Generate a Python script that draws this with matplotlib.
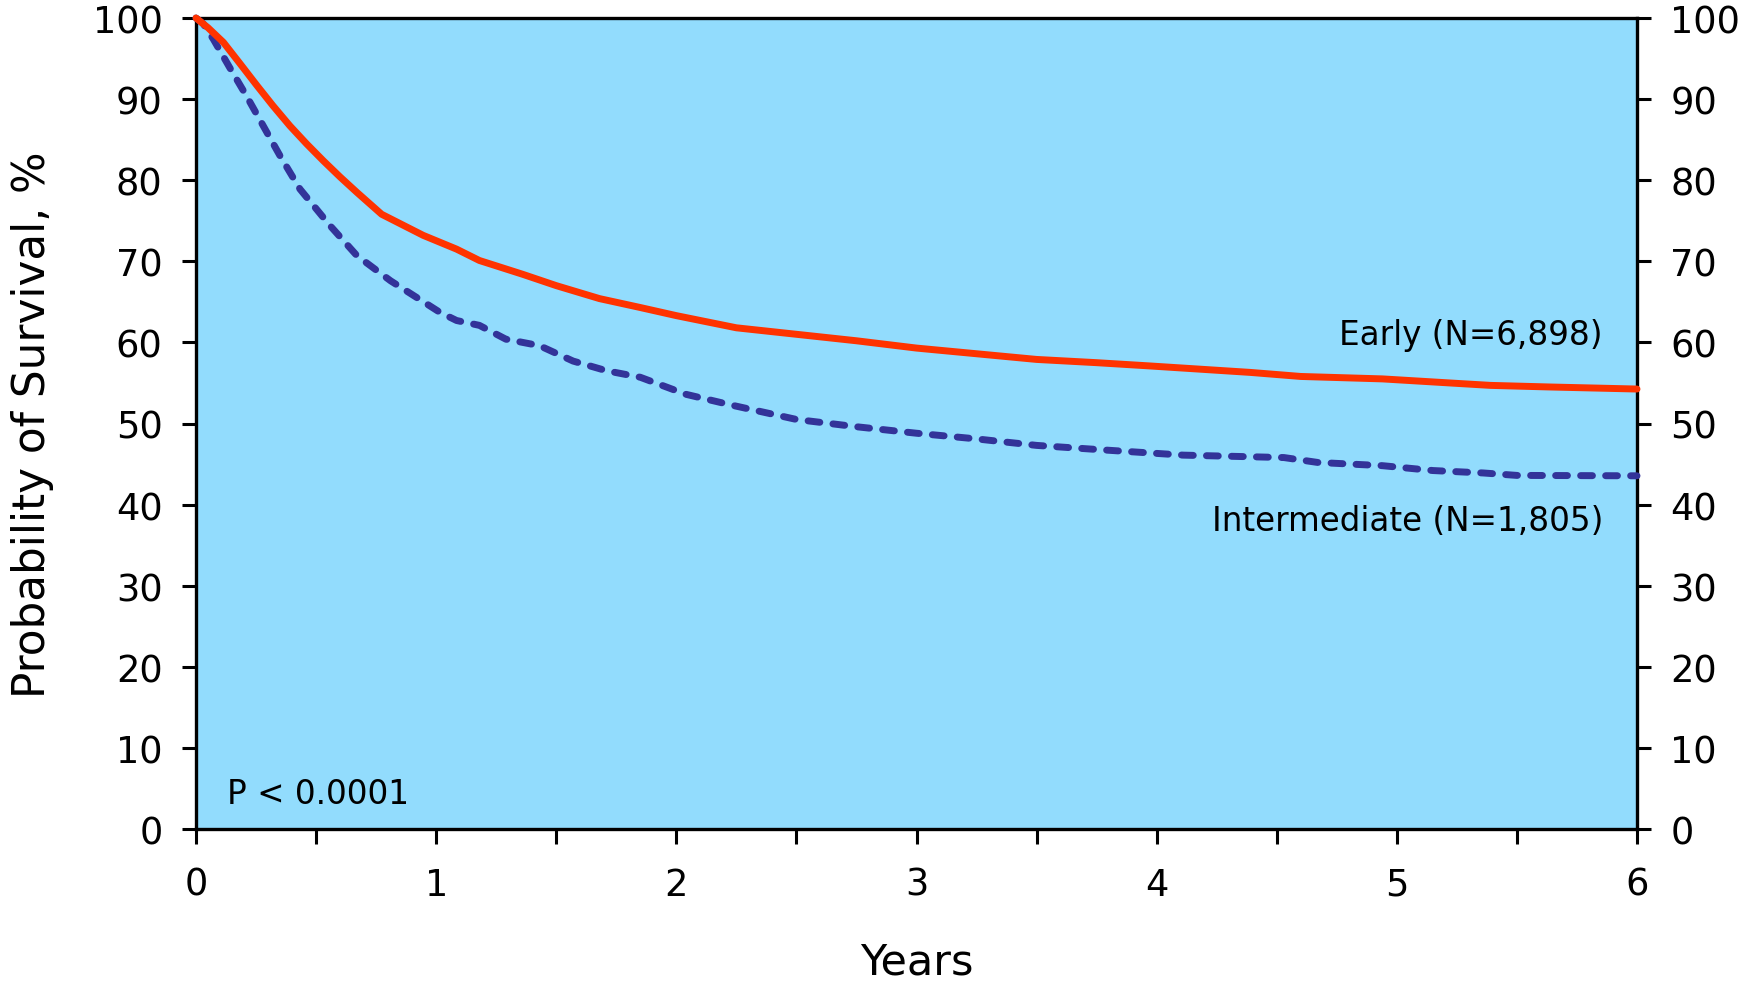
import matplotlib
matplotlib.use("Agg")
import matplotlib.pyplot as plt
import numpy as np

# ---- data ----
early_t = [0, 0.05, 0.114, 0.18, 0.253, 0.32, 0.391, 0.46, 0.53, 0.6, 0.67, 0.773,
           0.946, 1.085, 1.18, 1.36, 1.50, 1.68, 1.85, 2.0, 2.25, 2.5, 2.75, 3.0,
           3.25, 3.5, 3.75, 3.97, 4.39, 4.6, 4.94, 5.22, 5.39, 5.64, 6.0]
early_s = [100, 98.8, 97.0, 94.5, 91.7, 89.2, 86.7, 84.5, 82.4, 80.4, 78.5, 75.8,
           73.2, 71.5, 70.1, 68.4, 67.0, 65.4, 64.3, 63.3, 61.8, 61.0, 60.2, 59.3,
           58.6, 57.9, 57.5, 57.1, 56.3, 55.8, 55.5, 55.0, 54.7, 54.5, 54.25]

inter_t = [0, 0.03, 0.072, 0.14, 0.21, 0.28, 0.35, 0.433, 0.558, 0.67, 0.81, 1.016,
           1.085, 1.18, 1.29, 1.43, 1.57, 1.71, 1.85, 2.04, 2.24, 2.5, 2.75, 3.0,
           3.25, 3.5, 3.8, 4.11, 4.53, 4.67, 4.94, 5.15, 5.36, 5.5, 6.0]
inter_s = [100, 99.3, 97.4, 93.9, 90.4, 86.7, 83.0, 78.9, 74.4, 70.7, 67.6, 63.7,
           62.7, 62.1, 60.4, 59.6, 57.7, 56.5, 55.7, 53.6, 52.2, 50.5, 49.6, 48.8,
           48.1, 47.3, 46.7, 46.1, 45.8, 45.2, 44.8, 44.2, 43.9, 43.6, 43.55]

early_label = "Early (N=6,898)"
inter_label = "Intermediate (N=1,805)"
p_text = "P < 0.0001"
x_ticks = [0, 1, 2, 3, 4, 5, 6]
x_minor = [0.5, 1.5, 2.5, 3.5, 4.5, 5.5]
y_ticks = [0, 10, 20, 30, 40, 50, 60, 70, 80, 90, 100]

# ---- style ----
plt.rcParams['font.family'] = ['DejaVu Sans']
BG = '#92DCFD'
RED = '#FF3300'
BLUE = '#333399'

fig = plt.figure(figsize=(17.64, 9.87), dpi=100)
ax = fig.add_axes([196/1764, 1-830/987, (1637-196)/1764, (830-19)/987])
ax.set_facecolor(BG)

ax.plot(early_t, early_s, color=RED, lw=5.0, solid_capstyle='round',
        solid_joinstyle='round', clip_on=False, zorder=4)
ax.plot(inter_t, inter_s, color=BLUE, lw=5.0, linestyle=(0, (1.7, 1.9)),
        dash_capstyle='round', clip_on=False, zorder=3)

ax.set_xlim(0, 6)
ax.set_ylim(0, 100)
ax.set_xticks(x_ticks)
ax.set_xticks(x_minor, minor=True)
ax.set_yticks(y_ticks)

for s in ax.spines.values():
    s.set_linewidth(2.4)
    s.set_color('black')

ax.tick_params(axis='x', which='both', direction='out', length=10.5, width=2.2,
               top=False, labelsize=26.5, pad=16)
ax.tick_params(axis='y', which='both', direction='out', length=10, width=2.2,
               left=True, right=True, labelleft=True, labelright=True,
               labelsize=26.5, pad=14)

ax.set_xlabel("Years", fontsize=31, va='baseline')
ax.xaxis.set_label_coords(0.5, (830-975)/811)
ax.set_ylabel("Probability of Survival, %", fontsize=31.5, va='baseline')
ax.yaxis.set_label_coords((45-196)/1441, 0.5)

ax.text(5.858, 59.8, early_label, ha='right', va='baseline', fontsize=23.5)
ax.text(5.858, 36.9, inter_label, ha='right', va='baseline', fontsize=23.5)
ax.text(0.128, 3.2, p_text, ha='left', va='baseline', fontsize=23.5)

fig.savefig("out.png", dpi=100)
